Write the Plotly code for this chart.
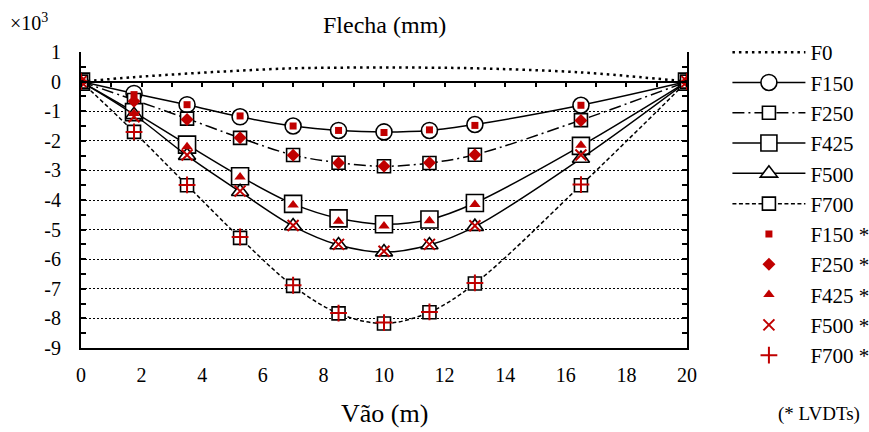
import plotly.graph_objects as go

# Span positions (m)
x = [0, 1.75, 3.5, 5.25, 7, 8.5, 10, 11.5, 13, 16.5, 20]

# Deflection readings (x10^3)
F0 = [0, 0.15, 0.27, 0.37, 0.45, 0.47, 0.48, 0.47, 0.45, 0.31, 0]
F150 = [0, -0.40, -0.78, -1.19, -1.50, -1.65, -1.70, -1.65, -1.45, -0.80, 0]
F250 = [0, -0.62, -1.25, -1.90, -2.48, -2.74, -2.86, -2.75, -2.47, -1.30, 0]
F425 = [0, -1.03, -2.13, -3.20, -4.13, -4.62, -4.82, -4.66, -4.10, -2.17, 0]
F500 = [0, -1.12, -2.50, -3.72, -4.88, -5.52, -5.76, -5.52, -4.90, -2.60, 0]
F700 = [0, -1.70, -3.50, -5.28, -6.90, -7.83, -8.17, -7.79, -6.82, -3.50, 0]

# LVDT readings (x10^3)
F150_lvdt = [0, -0.44, -0.78, -1.16, -1.50, -1.65, -1.72, -1.63, -1.48, -0.80, 0]
F250_lvdt = [0, -0.66, -1.28, -1.90, -2.49, -2.75, -2.86, -2.74, -2.47, -1.31, 0]
F425_lvdt = [0, -1.08, -2.20, -3.22, -4.17, -4.72, -4.88, -4.70, -4.15, -2.15, 0]
F500_lvdt = [0, -1.19, -2.48, -3.70, -4.86, -5.50, -5.73, -5.50, -4.87, -2.48, 0]
F700_lvdt = [0, -1.70, -3.49, -5.25, -6.88, -7.82, -8.14, -7.78, -6.80, -3.48, 0]

y_ticks = [1, 0, -1, -2, -3, -4, -5, -6, -7, -8, -9]
y_labels = ["1", "0", "-1", "-2", "-3", "-4", "-5", "-6", "-7", "-8", "-9"]
x_ticks = [0, 2, 4, 6, 8, 10, 12, 14, 16, 18, 20]
x_labels = ["0", "2", "4", "6", "8", "10", "12", "14", "16", "18", "20"]

FONT = "Liberation Serif"
RED = "#C00000"

fig = go.Figure()

# camber curve (no markers), drawn on the overlay axis that carries the y=0 tick line
fig.add_trace(go.Scatter(
    x=x, y=F0, name="F0", mode="lines", xaxis="x2",
    line=dict(color="black", width=2.5, dash="2.5px,4px", shape="spline"),
    legendgroup="F0"))

measured = [
    ("F150", F150, "circle", 16, "solid"),
    ("F250", F250, "square", 13, "12px,4px,2px,4px"),
    ("F425", F425, "square", 17, "solid"),
    ("F500", F500, "triangle-up", 15, "solid"),
    ("F700", F700, "square", 13, "4px,2.5px"),
]
for name, vals, sym, size, dash in measured:
    fig.add_trace(go.Scatter(
        x=x, y=vals, name=name, mode="lines+markers",
        line=dict(color="black", width=1.5, dash=dash, shape="spline"),
        marker=dict(symbol=sym, size=size, color="white",
                    line=dict(color="black", width=1.6)),
        legendgroup=name))

lvdt = [
    ("F150 *", F150_lvdt, "square", 7, 0),
    ("F250 *", F250_lvdt, "diamond", 10, 0),
    ("F425 *", F425_lvdt, "triangle-up", 10, 0),
    ("F500 *", F500_lvdt, "x-thin", 11, 2),
    ("F700 *", F700_lvdt, "cross-thin", 12, 2),
]
for name, vals, sym, size, lw in lvdt:
    fig.add_trace(go.Scatter(
        x=x, y=vals, name=name, mode="markers",
        marker=dict(symbol=sym, size=size, color=RED,
                    line=dict(color=RED, width=lw)),
        legendgroup=name))

fig.update_layout(
    width=869, height=432,
    margin=dict(l=81, r=182, t=52, b=84, autoexpand=False),
    paper_bgcolor="white", plot_bgcolor="white",
    font=dict(family=FONT, size=20, color="black"),
    showlegend=True,
    legend=dict(x=1.0667, y=1.0676, xanchor="left", yanchor="top",
                font=dict(family=FONT, size=21),
                itemwidth=73, tracegroupgap=0, maxheight=420,
                bgcolor="rgba(0,0,0,0)"),
    xaxis=dict(range=[0, 20], tickvals=x_ticks, ticktext=x_labels,
               showgrid=False, zeroline=False, showline=True,
               linecolor="black", linewidth=2, ticks="",
               ticklabelstandoff=8,
               tickfont=dict(family=FONT, size=20)),
    xaxis2=dict(range=[0, 20], overlaying="x", anchor="free", position=0.9,
                side="bottom", showgrid=False, zeroline=False,
                showline=True, linecolor="black", linewidth=1.5,
                ticks="outside", ticklen=5, tickwidth=1.5, tickcolor="black",
                tick0=0, dtick=1, showticklabels=False),
    yaxis=dict(range=[-9, 1], tickvals=y_ticks, ticktext=y_labels,
               showgrid=True, gridcolor="black", gridwidth=1.3,
               griddash="2px,2px", zeroline=False,
               showline=True, linecolor="black", linewidth=2,
               mirror="ticks", ticks="inside", ticklen=5, tickwidth=1.5,
               tickcolor="black", ticklabelstandoff=14,
               minor=dict(dtick=0.5, ticks="inside", ticklen=5,
                          tickwidth=1.5, tickcolor="black", showgrid=False),
               tickfont=dict(family=FONT, size=20)),
    annotations=[
        dict(text="Flecha (mm)", x=0.5, y=1.09, xref="paper", yref="paper",
             xanchor="center", yanchor="middle", showarrow=False,
             font=dict(family=FONT, size=24)),
        dict(text="\u00d710<sup>3</sup>", x=-0.12, y=1.1, xref="paper",
             yref="paper", xanchor="left", yanchor="middle", showarrow=False,
             font=dict(family=FONT, size=20)),
        dict(text="Vão (m)", x=0.5, y=-0.22, xref="paper", yref="paper",
             xanchor="center", yanchor="middle", showarrow=False,
             font=dict(family=FONT, size=26)),
        dict(text="(* LVDTs)", x=1.218, y=-0.223, xref="paper", yref="paper",
             xanchor="center", yanchor="middle", showarrow=False,
             font=dict(family=FONT, size=19)),
    ],
)

fig.write_html("out.html")
